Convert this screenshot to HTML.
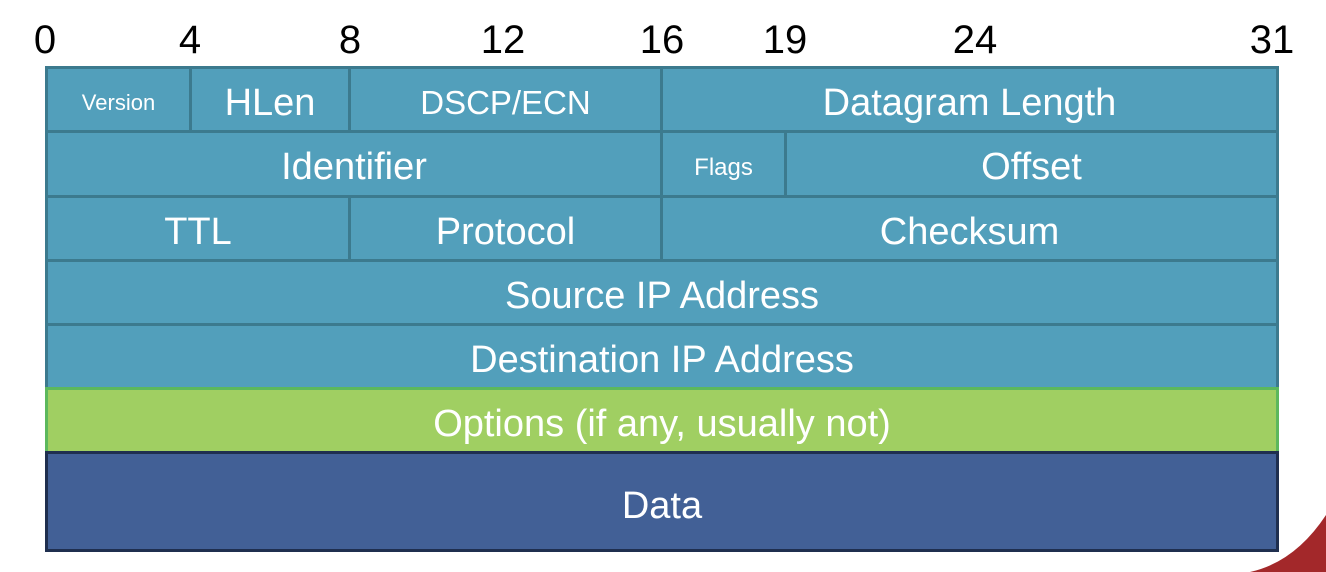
<!DOCTYPE html>
<html><head><meta charset="utf-8"><style>
body{margin:0;width:1326px;height:572px;background:#fff;position:relative;overflow:hidden;font-family:"Liberation Sans","DejaVu Sans",sans-serif;}
.n{position:absolute;top:16px;font-size:40px;color:#000;transform:translateX(-50%);line-height:48px;}
.c{position:absolute;box-sizing:border-box;border:3px solid #3c7a8e;background:#529fbb;color:#fff;display:flex;align-items:center;justify-content:center;font-size:38px;padding-top:7px;}
</style></head><body>
<div class="n" style="left:45px">0</div>
<div class="n" style="left:190px">4</div>
<div class="n" style="left:350px">8</div>
<div class="n" style="left:503px">12</div>
<div class="n" style="left:662px">16</div>
<div class="n" style="left:785px">19</div>
<div class="n" style="left:975px">24</div>
<div class="n" style="left:1272px">31</div>

<div class="c" style="left:45px;top:66px;width:147px;height:67px;font-size:22px">Version</div>
<div class="c" style="left:189px;top:66px;width:162px;height:67px">HLen</div>
<div class="c" style="left:348px;top:66px;width:315px;height:67px;font-size:33px">DSCP/ECN</div>
<div class="c" style="left:660px;top:66px;width:619px;height:67px">Datagram Length</div>

<div class="c" style="left:45px;top:130px;width:618px;height:68px">Identifier</div>
<div class="c" style="left:660px;top:130px;width:127px;height:68px;font-size:24px">Flags</div>
<div class="c" style="left:784px;top:130px;width:495px;height:68px">Offset</div>

<div class="c" style="left:45px;top:195px;width:306px;height:67px">TTL</div>
<div class="c" style="left:348px;top:195px;width:315px;height:67px">Protocol</div>
<div class="c" style="left:660px;top:195px;width:619px;height:67px">Checksum</div>

<div class="c" style="left:45px;top:259px;width:1234px;height:67px">Source IP Address</div>
<div class="c" style="left:45px;top:323px;width:1234px;height:67px">Destination IP Address</div>
<div class="c" style="left:45px;top:387px;width:1234px;height:67px;background:#a0cf62;border-color:#5cb85c">Options (if any, usually not)</div>
<div class="c" style="left:45px;top:451px;width:1234px;height:101px;background:#426096;border-color:#1f2f4f;padding-top:10px">Data</div>

<svg style="position:absolute;left:0;top:0" width="1326" height="572">
<path d="M1250 572 Q1295 562 1326 515 L1326 572 Z" fill="#a3282a"/>
</svg>
</body></html>
